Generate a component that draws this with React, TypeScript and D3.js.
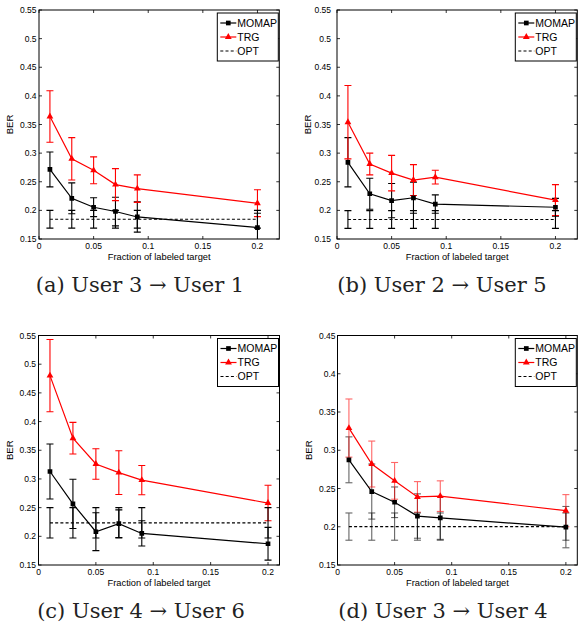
import React from 'react';
import * as d3 from 'd3';

// ---------- data ----------
const FRACTIONS = [0.01, 0.03, 0.05, 0.07, 0.09, 0.2];
const X_TICKS = [0, 0.05, 0.1, 0.15, 0.2];
const Y_TICKS_TALL = [0.15, 0.2, 0.25, 0.3, 0.35, 0.4, 0.45, 0.5, 0.55];
const Y_TICKS_SHORT = [0.15, 0.2, 0.25, 0.3, 0.35, 0.4, 0.45];
const SERIES_NAMES = ['MOMAP', 'TRG', 'OPT'];
const X_LABEL = 'Fraction of labeled target';
const Y_LABEL = 'BER';
const CAPTIONS = [
  '(a) User 3 \u2192 User 1',
  '(b) User 2 \u2192 User 5',
  '(c) User 4 \u2192 User 6',
  '(d) User 3 \u2192 User 4',
];

// (a) User 3 -> User 1
const momapA = [0.2715, 0.221, 0.2055, 0.198, 0.1885, 0.17];
const momapErrA = [0.0305, 0.027, 0.0165, 0.025, 0.0265, 0.025];
const trgA = [0.364, 0.29, 0.27, 0.245, 0.238, 0.2125];
const trgErrA = [0.045, 0.037, 0.0235, 0.028, 0.024, 0.0235];
const optA = [0.1845, 0.1845, 0.1845, 0.1845, 0.1845, 0.1845];
const optErrA = [0.0155, 0.0155, 0.0155, 0.0155, 0.0155, 0.0155];

// (b) User 2 -> User 5
const momapB = [0.284, 0.229, 0.217, 0.222, 0.211, 0.2055];
const momapErrB = [0.043, 0.027, 0.03, 0.027, 0.016, 0.0155];
const trgB = [0.354, 0.281, 0.265, 0.253, 0.258, 0.218];
const trgErrB = [0.064, 0.019, 0.031, 0.027, 0.012, 0.027];
const optB = [0.184, 0.184, 0.184, 0.184, 0.184, 0.184];
const optErrB = [0.0155, 0.0155, 0.0155, 0.0155, 0.0155, 0.0155];

// (c) User 4 -> User 6
const momapC = [0.313, 0.2565, 0.208, 0.222, 0.205, 0.187];
const momapErrC = [0.048, 0.043, 0.033, 0.024, 0.022, 0.0285];
const trgC = [0.48, 0.371, 0.326, 0.311, 0.298, 0.258];
const trgErrC = [0.063, 0.0275, 0.0265, 0.038, 0.0255, 0.031];
const optC = [0.2235, 0.2235, 0.2235, 0.2235, 0.2235, 0.2235];
const optErrC = [0.0265, 0.0265, 0.0265, 0.0265, 0.0265, 0.0265];

// (d) User 3 -> User 4
const momapD = [0.2875, 0.246, 0.232, 0.214, 0.2115, 0.1995];
const momapErrD = [0.03, 0.036, 0.02, 0.029, 0.028, 0.027];
const trgD = [0.329, 0.282, 0.26, 0.239, 0.24, 0.221];
const trgErrD = [0.038, 0.03, 0.024, 0.02, 0.02, 0.021];
const optD = [0.2002, 0.2002, 0.2002, 0.2002, 0.2002, 0.2002];
const optErrD = [0.0178, 0.0178, 0.0178, 0.0178, 0.0178, 0.0178];

const PANEL_DATA = [
  { momap: momapA, momapErr: momapErrA, trg: trgA, trgErr: trgErrA, opt: optA, optErr: optErrA, xMax: 0.22, yTicks: Y_TICKS_TALL },
  { momap: momapB, momapErr: momapErrB, trg: trgB, trgErr: trgErrB, opt: optB, optErr: optErrB, xMax: 0.22, yTicks: Y_TICKS_TALL },
  { momap: momapC, momapErr: momapErrC, trg: trgC, trgErr: trgErrC, opt: optC, optErr: optErrC, xMax: 0.21, yTicks: Y_TICKS_TALL },
  { momap: momapD, momapErr: momapErrD, trg: trgD, trgErr: trgErrD, opt: optD, optErr: optErrD, xMax: 0.21, yTicks: Y_TICKS_SHORT },
];

// ---------- layout ----------
const LAYOUT = [
  { left: 39, right: 279.3, top: 10, bottom: 239, labelGap: 2.5, capX: 140, capY: 292, barOpacity: 1 },
  { left: 337, right: 577.3, top: 10, bottom: 239, labelGap: 6, capX: 442, capY: 292, barOpacity: 1 },
  { left: 38.5, right: 279.5, top: 335.5, bottom: 565, labelGap: 2.5, capX: 141, capY: 618, barOpacity: 1 },
  { left: 337.5, right: 577.3, top: 335.5, bottom: 565, labelGap: 2, capX: 443, capY: 618, barOpacity: 0.6 },
];

const SANS = '"Liberation Sans", Arial, Helvetica, sans-serif';
const SERIF = '"DejaVu Serif", serif';
const RED = '#ff0000';

const fmt = (v: number) => String(+v.toFixed(2));

function ErrorBars({ xs, vals, errs, x, y, color, opacity }: any) {
  return (
    <g stroke={color} strokeWidth={1.1} opacity={opacity} fill="none">
      {vals.map((v: number, i: number) => {
        const cx = x(xs[i]);
        const y1 = y(v + errs[i]);
        const y2 = y(v - errs[i]);
        return (
          <g key={i}>
            <line x1={cx} x2={cx} y1={y1} y2={y2} />
            <line x1={cx - 3.5} x2={cx + 3.5} y1={y1} y2={y1} />
            <line x1={cx - 3.5} x2={cx + 3.5} y1={y2} y2={y2} />
          </g>
        );
      })}
    </g>
  );
}

function Panel({ idx }: { idx: number }) {
  const L = LAYOUT[idx];
  const D = PANEL_DATA[idx];
  const yMin = D.yTicks[0];
  const yMax = D.yTicks[D.yTicks.length - 1];
  const x = d3.scaleLinear().domain([0, D.xMax]).range([L.left, L.right]);
  const y = d3.scaleLinear().domain([yMin, yMax]).range([L.bottom, L.top]);
  const line = d3
    .line<number>()
    .x((_, i) => x(FRACTIONS[i]))
    .y((d) => y(d));
  const tri = d3.symbol(d3.symbolTriangle, 20)() as string;
  const sq = d3.symbol(d3.symbolSquare, 22)() as string;
  const clipId = `clip-${idx}`;
  const tl = 3;

  // legend box
  const lgW = 61;
  const lgH = 48;
  const lgX = L.right - 1 - lgW;
  const lgY = L.top + 3;
  const rowY = [lgY + 10, lgY + 24, lgY + 38];

  return (
    <g>
      <defs>
        <clipPath id={clipId}>
          <rect x={L.left} y={L.top} width={L.right - L.left} height={L.bottom - L.top} />
        </clipPath>
      </defs>
      <rect x={L.left} y={L.top} width={L.right - L.left} height={L.bottom - L.top} fill="#fff" />

      {/* ticks */}
      <g stroke="#000" strokeWidth={0.8}>
        {D.yTicks.map((t: number) => (
          <g key={'y' + t}>
            <line x1={L.left} x2={L.left + tl} y1={y(t)} y2={y(t)} />
            <line x1={L.right} x2={L.right - tl} y1={y(t)} y2={y(t)} />
          </g>
        ))}
        {X_TICKS.map((t) => (
          <g key={'x' + t}>
            <line x1={x(t)} x2={x(t)} y1={L.bottom} y2={L.bottom - tl} />
            <line x1={x(t)} x2={x(t)} y1={L.top} y2={L.top + tl} />
          </g>
        ))}
      </g>

      {/* tick labels */}
      <g fontFamily={SANS} fontSize={8.5} fill="#000">
        {D.yTicks.map((t: number) => (
          <text key={'yl' + t} x={L.left - L.labelGap} y={y(t) + 3} textAnchor="end">
            {fmt(t)}
          </text>
        ))}
        {X_TICKS.map((t) => (
          <text key={'xl' + t} x={x(t)} y={L.bottom + 10} textAnchor="middle">
            {fmt(t)}
          </text>
        ))}
      </g>

      {/* axis labels */}
      <text
        x={(L.left + L.right) / 2}
        y={L.bottom + 20.8}
        textAnchor="middle"
        fontFamily={SANS}
        fontSize={9.3}
      >
        {X_LABEL}
      </text>
      <text
        transform={`translate(${L.left - 26},${(L.top + L.bottom) / 2}) rotate(-90)`}
        textAnchor="middle"
        fontFamily={SANS}
        fontSize={9.5}
      >
        {Y_LABEL}
      </text>

      {/* data */}
      <g clipPath={`url(#${clipId})`}>
        <ErrorBars xs={FRACTIONS} vals={D.momap} errs={D.momapErr} x={x} y={y} color="#000" opacity={L.barOpacity} />
        <ErrorBars xs={FRACTIONS} vals={D.trg} errs={D.trgErr} x={x} y={y} color={RED} opacity={L.barOpacity} />
        <ErrorBars xs={FRACTIONS} vals={D.opt} errs={D.optErr} x={x} y={y} color="#000" opacity={L.barOpacity} />

        <path d={line(D.momap) as string} fill="none" stroke="#000" strokeWidth={1.2} />
        {D.momap.map((v: number, i: number) => (
          <path key={'m' + i} d={sq} transform={`translate(${x(FRACTIONS[i])},${y(v)})`} fill="#000" />
        ))}
        <path d={line(D.trg) as string} fill="none" stroke={RED} strokeWidth={1.2} />
        {D.trg.map((v: number, i: number) => (
          <path key={'t' + i} d={tri} transform={`translate(${x(FRACTIONS[i])},${y(v)})`} fill={RED} />
        ))}
        <path d={line(D.opt) as string} fill="none" stroke="#000" strokeWidth={1.1} strokeDasharray="3,2.2" />
      </g>

      {/* frame */}
      <rect
        x={L.left}
        y={L.top}
        width={L.right - L.left}
        height={L.bottom - L.top}
        fill="none"
        stroke="#000"
        strokeWidth={1}
      />

      {/* legend */}
      <rect x={lgX} y={lgY} width={lgW} height={lgH} fill="#fff" stroke="#000" strokeWidth={1} />
      <g>
        <line x1={lgX + 3} x2={lgX + 19} y1={rowY[0]} y2={rowY[0]} stroke="#000" strokeWidth={1.2} />
        <path d={sq} transform={`translate(${lgX + 11},${rowY[0]})`} fill="#000" />
        <line x1={lgX + 3} x2={lgX + 19} y1={rowY[1]} y2={rowY[1]} stroke={RED} strokeWidth={1.2} />
        <path d={tri} transform={`translate(${lgX + 11},${rowY[1]})`} fill={RED} />
        <line x1={lgX + 3} x2={lgX + 19} y1={rowY[2]} y2={rowY[2]} stroke="#000" strokeWidth={1.1} strokeDasharray="3,2.2" />
        {SERIES_NAMES.map((n, i) => (
          <text key={n} x={lgX + 20} y={rowY[i] + 3.8} fontFamily={SANS} fontSize={10.5}>
            {n}
          </text>
        ))}
      </g>

      {/* caption */}
      <text x={L.capX} y={L.capY} textAnchor="middle" fontFamily={SERIF} fontSize={21} fill="#222">
        {CAPTIONS[idx]}
      </text>
    </g>
  );
}

export default function App() {
  return (
    <svg
      width={580}
      height={623}
      viewBox="0 0 580 623"
      style={{ position: 'absolute', left: 0, top: 0, background: '#fff' }}
    >
      <rect width={580} height={623} fill="#fff" />
      {[0, 1, 2, 3].map((i) => (
        <Panel key={i} idx={i} />
      ))}
    </svg>
  );
}
